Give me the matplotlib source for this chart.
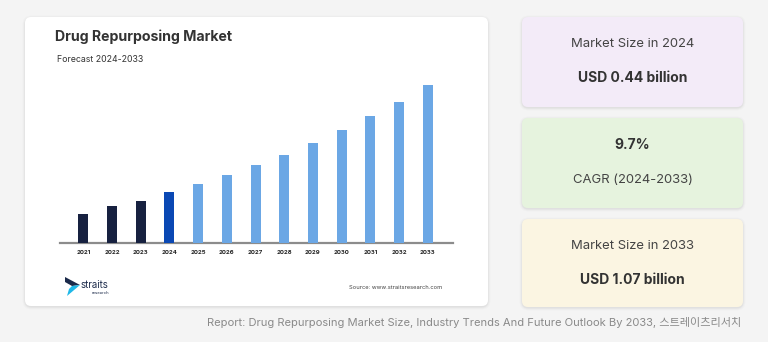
import matplotlib
matplotlib.use("Agg")
import matplotlib.pyplot as plt
from matplotlib.patches import FancyBboxPatch, Polygon

years = ["2021", "2022", "2023", "2024", "2025", "2026", "2027", "2028",
         "2029", "2030", "2031", "2032", "2033"]
values = [0.198, 0.252, 0.284, 0.345, 0.399, 0.461, 0.529, 0.597,
          0.676, 0.764, 0.858, 0.957, 1.07]
bar_colors = ["#172140", "#172140", "#172140", "#0a48b4"] + ["#6ba7e5"] * 9

title = "Drug Repurposing Market"
subtitle = "Forecast 2024-2033"
card_texts = [
    ("Market Size in 2024", "USD 0.44 billion", "#f3ebf8", False),
    ("9.7%", "CAGR (2024-2033)", "#e6f3de", True),
    ("Market Size in 2033", "USD 1.07 billion", "#fbf5e2", False),
]
footer = "Report: Drug Repurposing Market Size, Industry Trends And Future Outlook By 2033, 스트레이츠리서치"
source = "Source: www.straitsresearch.com"

W, H = 768, 342
fig = plt.figure(figsize=(W / 100, H / 100), dpi=100)
fig.patch.set_facecolor("#f4f4f4")

bg = fig.add_axes([0, 0, 1, 1])
bg.set_xlim(0, W)
bg.set_ylim(H, 0)
bg.axis("off")

def card(x0, y0, x1, y1, color, r=6):
    # soft shadow
    for i, a in enumerate([0.04, 0.025, 0.015]):
        d = i + 1
        bg.add_patch(FancyBboxPatch((x0 - d + 0.5, y0 - d + 1.5), (x1 - x0) + 2 * d - 1, (y1 - y0) + 2 * d - 1,
                                    boxstyle=f"round,pad=0,rounding_size={r + d}",
                                    fc="black", ec="none", alpha=a, zorder=1))
    bg.add_patch(FancyBboxPatch((x0, y0), x1 - x0, y1 - y0,
                                boxstyle=f"round,pad=0,rounding_size={r}",
                                fc=color, ec="none", zorder=2))

card(25, 17, 488, 306, "white")

bg.text(55, 37, title, fontsize=10.2, fontweight="bold", color="#333333",
        family="Inter", va="center", ha="left", zorder=5)
bg.text(57, 60, subtitle, fontsize=6.3, color="#333333",
        family="Inter", va="center", ha="left", zorder=5)

# logo
bg.add_patch(Polygon([[65, 277], [80, 285], [72, 286], [65, 282]], closed=True,
                     fc="#1b2a4a", ec="none", zorder=5))
bg.add_patch(Polygon([[72, 286], [80, 285], [67, 296], [69, 289]], closed=True,
                     fc="#1fb8e8", ec="none", zorder=5))
bg.text(81, 285, "straits", fontsize=7, color="#1b2a4a", family="Inter",
        va="center", ha="left", zorder=5)
bg.text(92, 293, "research", fontsize=3, color="#1b2a4a", family="Inter",
        va="center", ha="left", zorder=5)
bg.text(442, 287.5, source, fontsize=4.2, color="#444444", family="Inter",
        va="center", ha="right", zorder=5)

# side cards
boxes = [(17, 107), (118, 208), (219, 307)]
for (t1, t2, col, first_bold), (y0, y1) in zip(card_texts, boxes):
    card(522, y0, 743, y1, col)
    cx = 632.5
    if first_bold:
        bg.text(cx, y0 + 27, t1, fontsize=10, fontweight="bold", color="#333333",
                family="Inter", ha="center", va="center", zorder=5)
        bg.text(cx, y0 + 62, t2, fontsize=9.4, color="#444444",
                family="Inter", ha="center", va="center", zorder=5)
    else:
        bg.text(cx, y0 + 27, t1, fontsize=9.4, color="#444444",
                family="Inter", ha="center", va="center", zorder=5)
        bg.text(cx, y0 + 61.5, t2, fontsize=10, fontweight="bold", color="#333333",
                family="Inter", ha="center", va="center", zorder=5)

bg.text(741, 323, footer, fontsize=8.05, color="#8a8a8a",
        family=["Inter", "Noto Sans CJK KR"], ha="right", va="center", zorder=5)

# bar chart axes (pixel-mapped)
left_px, right_px, base_px, top_px = 60, 453, 243.3, 80
ax = fig.add_axes([left_px / W, (H - base_px) / H, (right_px - left_px) / W, (base_px - top_px) / H])
ax.patch.set_alpha(0)
x = list(range(len(years)))
ax.bar(x, values, width=0.35, color=bar_colors, zorder=3)
ax.set_xlim(-0.812, 12.88)
ax.set_ylim(0, 1.103)
for s in ["top", "right", "left"]:
    ax.spines[s].set_visible(False)
ax.spines["bottom"].set_color("#8c8c8c")
ax.spines["bottom"].set_linewidth(1.6)
ax.set_yticks([])
ax.set_xticks(x)
ax.set_xticklabels(years, fontsize=4.3, fontweight="bold", color="#222222", family="Inter")
ax.tick_params(axis="x", length=0, pad=5)

fig.savefig("out.png", dpi=100, facecolor=fig.get_facecolor())
